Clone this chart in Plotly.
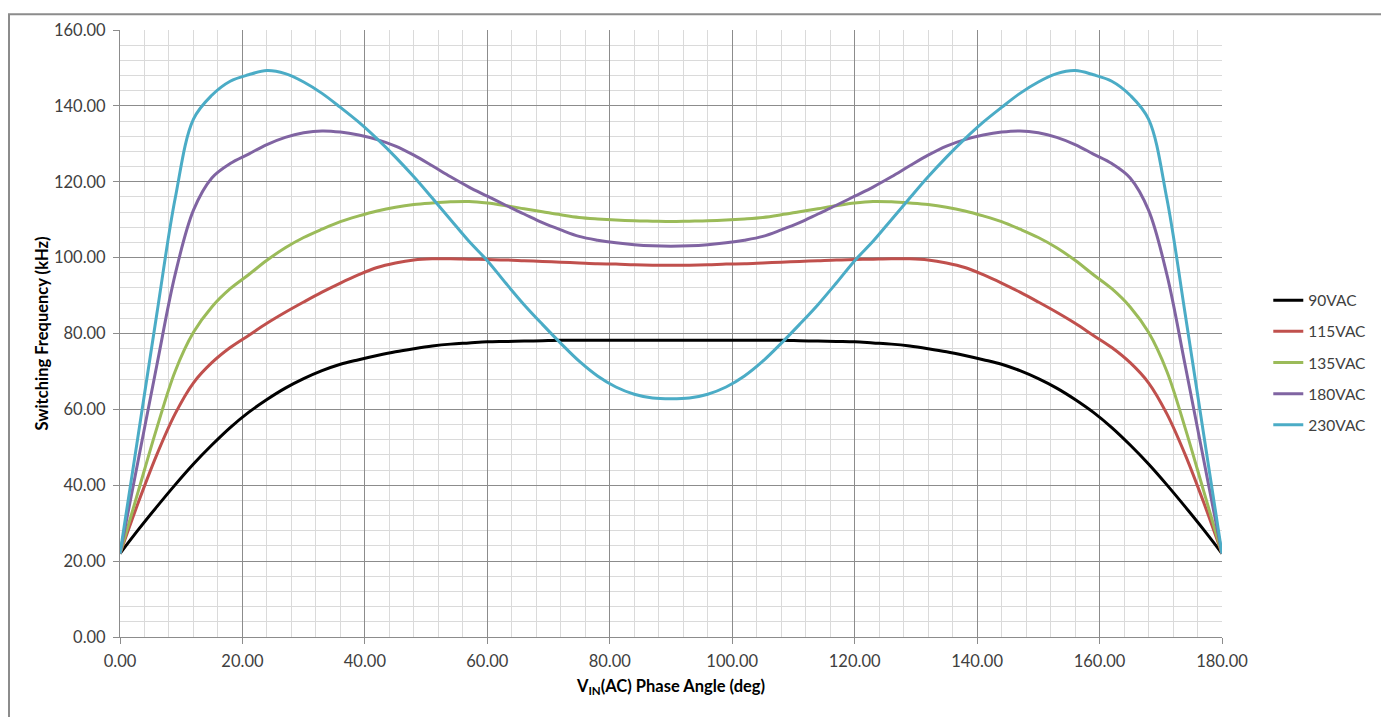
import plotly.graph_objects as go

angle = [0, 3, 6, 9, 12, 15, 18, 21, 24, 27, 30, 33, 36, 39, 42, 45, 48, 51, 54, 57, 60,
         63, 66, 69, 72, 75, 78, 81, 84, 87, 90, 93, 96, 99, 102, 105, 108, 111, 114, 117, 120,
         123, 126, 129, 132, 135, 138, 141, 144, 147, 150, 153, 156, 159, 162, 165, 168, 171,
         174, 177, 180]

v90 = [22, 28.3, 34.3, 40.1, 45.6, 50.6, 55.2, 59.2, 62.6, 65.6, 68.1, 70.2, 71.9, 73.1, 74.2, 75.2,
       76, 76.7, 77.2, 77.5, 77.8, 77.9, 78, 78.1, 78.2, 78.2, 78.2, 78.2, 78.2, 78.2, 78.2,
       78.2, 78.2, 78.2, 78.2, 78.2, 78.2, 78.1, 78, 77.9, 77.8, 77.5, 77.2, 76.7, 76, 75.2,
       74.2, 73.1, 71.9, 70.2, 68.1, 65.6, 62.6, 59.2, 55.2, 50.6, 45.6, 40.1, 34.3, 28.3, 22]

v115 = [22, 35.5, 48, 58.8, 67, 72.3, 76.3, 79.5, 82.7, 85.6, 88.3, 90.9, 93.3, 95.5, 97.4, 98.6,
        99.4, 99.7, 99.7, 99.6, 99.5, 99.4, 99.2, 99, 98.8, 98.6, 98.4, 98.3, 98.1, 98, 98,
        98, 98.1, 98.3, 98.4, 98.6, 98.8, 99, 99.2, 99.4, 99.5, 99.6, 99.7, 99.7, 99.4, 98.6,
        97.4, 95.5, 93.3, 90.9, 88.3, 85.6, 82.7, 79.5, 76.3, 72.3, 67, 58.8, 48, 35.5, 22]

v135 = [22, 38.5, 55, 70, 80.3, 87, 91.8, 95.5, 99.3, 102.6, 105.3, 107.5, 109.5, 111, 112.3, 113.3,
        114, 114.4, 114.7, 114.8, 114.4, 113.7, 112.9, 112.1, 111.3, 110.6, 110.2, 109.9, 109.7, 109.6,
        109.5,
        109.6, 109.7, 109.9, 110.2, 110.6, 111.3, 112.1, 112.9, 113.7, 114.4, 114.8, 114.7, 114.4, 114,
        113.3, 112.3, 111, 109.5, 107.5, 105.3, 102.6, 99.3, 95.5, 91.8, 87, 80.3, 70, 55, 38.5, 22]

v180 = [22, 46.8, 71.5, 95.5, 112.5, 121, 124.8, 127.3, 129.8, 131.7, 132.9, 133.4, 133.1, 132.3, 131.1,
        129.4, 127, 124.2, 121.3, 118.6, 116.2, 113.8, 111.5, 109.2, 107.3, 105.6, 104.6, 103.9, 103.4,
        103.1, 103,
        103.1, 103.4, 103.9, 104.6, 105.6, 107.3, 109.2, 111.5, 113.8, 116.2, 118.6, 121.3, 124.2, 127,
        129.4, 131.1, 132.3, 133.1, 133.4, 132.9, 131.7, 129.8, 127.3, 124.8, 121, 112.5, 95.5, 71.5, 46.8, 22]

v230 = [22, 53.5, 85, 115.5, 136.5, 142.8, 146.5, 148.2, 149.3, 148.5, 146.3, 143.3, 139.6, 135.7, 131.3,
        126.5, 121.3, 115.7, 110, 104.3, 99.2, 93.3, 87.6, 82.4, 77.4, 72.7, 68.8, 65.9, 64, 63, 62.8,
        63, 64, 65.9, 68.8, 72.7, 77.4, 82.4, 87.6, 93.3, 99.2, 104.3, 110, 115.7, 121.3, 126.5, 131.3,
        135.7, 139.6, 143.3, 146.3, 148.5, 149.3, 148.2, 146.5, 142.8, 136.5, 115.5, 85, 53.5, 22]

series_names = ["90VAC", "115VAC", "135VAC", "180VAC", "230VAC"]
series_values = [v90, v115, v135, v180, v230]
colors = ["#000000", "#C0504D", "#9BBB59", "#8064A2", "#4BACC6"]

FONT = "Lato, 'Noto Sans', sans-serif"

fig = go.Figure()
for name, vals, col in zip(series_names, series_values, colors):
    fig.add_trace(go.Scatter(
        x=angle, y=vals, name=name, mode="lines", legendgroup=name,
        line=dict(color=col, width=3, shape="spline", smoothing=1.0),
    ))

# figure is placed by the page 8px from the top-left corner
W, H = 1381, 709
L, R, T, B = 112, 167, 17, 80
PW = W - L - R
PH = H - T - B

fig.update_layout(
    width=W, height=H,
    margin=dict(l=L, r=R, t=T, b=B),
    paper_bgcolor="white", plot_bgcolor="white",
    font=dict(family=FONT, size=16, color="#404040"),
    showlegend=True,
    legend=dict(x=1.042, y=0.452, xanchor="left", yanchor="middle",
                font=dict(family=FONT, size=15.5, color="#404040"),
                tracegroupgap=8, bgcolor="rgba(0,0,0,0)"),
    xaxis=dict(
        range=[0, 180], dtick=20, tick0=0, tickformat=".2f",
        showgrid=True, gridcolor="#8C8C8C", gridwidth=1,
        minor=dict(dtick=4, showgrid=True, gridcolor="#DADADA", gridwidth=1),
        showline=True, linecolor="#8C8C8C", linewidth=1,
        ticks="outside", ticklen=6, tickcolor="#8C8C8C", ticklabelstandoff=3,
        zeroline=False, tickfont=dict(size=16.5, color="#404040"),
        title=dict(text="<b>V<sub>IN</sub>(AC) Phase Angle (deg)</b>",
                   font=dict(size=16.5, color="#000000"), standoff=10),
    ),
    yaxis=dict(
        range=[0, 160], dtick=20, tick0=0, tickformat=".2f",
        showgrid=True, gridcolor="#8C8C8C", gridwidth=1,
        minor=dict(dtick=4, showgrid=True, gridcolor="#DADADA", gridwidth=1),
        showline=True, linecolor="#8C8C8C", linewidth=1,
        ticks="outside", ticklen=6, tickcolor="#8C8C8C", ticklabelstandoff=4,
        zeroline=False, tickfont=dict(size=16.5, color="#404040"),
        title=dict(text="<b>Switching Frequency (kHz)</b>",
                   font=dict(size=16.5, color="#000000"), standoff=1),
    ),
)

# outer chart border (bottom edge lies below the visible window)
fig.add_shape(type="rect", xref="paper", yref="paper",
              x0=(1 - L) / PW, x1=(1375 - L) / PW,
              y0=(T + PH - 740) / PH, y1=(T + PH - 1) / PH,
              line=dict(color="#8C8C8C", width=2), fillcolor="rgba(0,0,0,0)", layer="below")

fig.write_html("out.html")
